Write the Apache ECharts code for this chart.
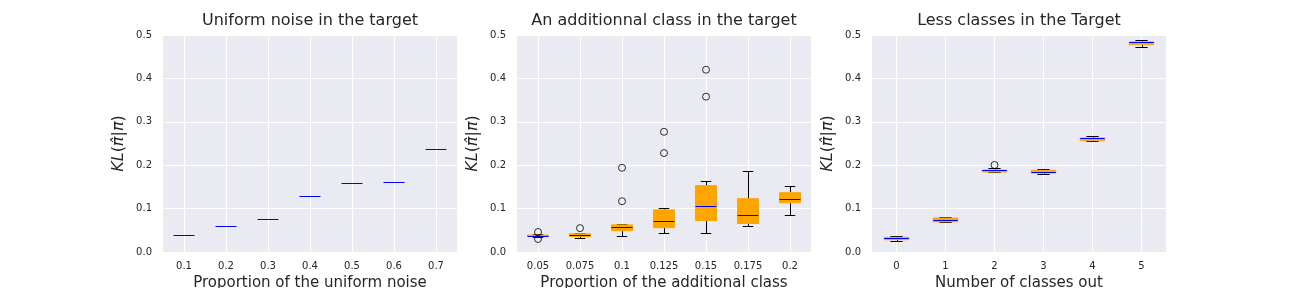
<!DOCTYPE html>
<html><head><meta charset="utf-8">
<script src="https://cdn.jsdelivr.net/npm/echarts@6/dist/echarts.min.js"></script>
<style>html,body{margin:0;padding:0;background:#fff}#c{width:1296px;height:288px}</style>
</head><body><div id="c"></div>
<script>
// ---- Data ----
const titles = ['Uniform noise in the target', 'An additionnal class in the target', 'Less classes in the Target'];
const xLabels = ['Proportion of the uniform noise', 'Proportion of the additional class', 'Number of classes out'];
const yTicks = [0, 0.1, 0.2, 0.3, 0.4, 0.5];

// Panel 1: degenerate boxes (only median visible)
const noiseCats = ['0.1', '0.2', '0.3', '0.4', '0.5', '0.6', '0.7'];
const noiseMedian = [0.039, 0.059, 0.075, 0.128, 0.158, 0.1606, 0.2366];

// Panel 2: [low whisker, q1, median, q3, high whisker]
const addCats = ['0.05', '0.075', '0.1', '0.125', '0.15', '0.175', '0.2'];
const addLow    = [0.034, 0.032, 0.037, 0.043, 0.043, 0.060, 0.085];
const addQ1     = [0.036, 0.0355, 0.049, 0.056, 0.0725, 0.0656, 0.1134];
const addMedian = [0.038, 0.0386, 0.057, 0.071, 0.1065, 0.0856, 0.122];
const addQ3     = [0.039, 0.042, 0.0625, 0.097, 0.153, 0.1227, 0.1366];
const addHigh   = [0.041, 0.044, 0.065, 0.101, 0.1636, 0.1867, 0.152];
const addOutliers = [[0, 0.046], [0, 0.030], [1, 0.055], [2, 0.117], [2, 0.194], [3, 0.228], [3, 0.277], [4, 0.358], [4, 0.420]];

// Panel 3
const lessCats = ['0', '1', '2', '3', '4', '5'];
const lessLow    = [0.0253, 0.0695, 0.1836, 0.1805, 0.2565, 0.4724];
const lessQ1     = [0.0284, 0.0695, 0.1843, 0.182, 0.2565, 0.4777];
const lessMedian = [0.0315, 0.073, 0.1882, 0.1851, 0.2619, 0.4832];
const lessQ3     = [0.0338, 0.0783, 0.189, 0.1882, 0.2627, 0.4840];
const lessHigh   = [0.0361, 0.0799, 0.1928, 0.1905, 0.2665, 0.4878];
const lessOutliers = [[2, 0.2005]];

// ---- Build ----
const FONT = 'DejaVu Sans';
const TXT = '#262626';
const gridsPos = [163, 517, 872];
const GW = 294, GT = 35, GH = 217;

function zip(lo, q1, md, q3, hi) {
  return md.map((m, i) => [i, lo[i], q1[i], m, q3[i], hi[i]]);
}
const r = v => Math.round(v) + 0.5;

function boxRender(params, api) {
  const i = api.value(0);
  const band = api.size([1, 0])[0];
  const bw = band * 0.5, cw = band * 0.25;
  const cx = api.coord([i, api.value(3)])[0];
  const yl = api.coord([i, api.value(1)])[1];
  const y1 = api.coord([i, api.value(2)])[1];
  const ym = api.coord([i, api.value(3)])[1];
  const y3 = api.coord([i, api.value(4)])[1];
  const yh = api.coord([i, api.value(5)])[1];
  const px = r(cx);
  const black = {stroke: '#000', lineWidth: 1, fill: null};
  return {type: 'group', children: [
    {type: 'line', shape: {x1: px, y1: y1, x2: px, y2: r(yl)}, style: black},
    {type: 'line', shape: {x1: px, y1: y3, x2: px, y2: r(yh)}, style: black},
    {type: 'line', shape: {x1: cx - cw / 2, y1: r(yl), x2: cx + cw / 2, y2: r(yl)}, style: black},
    {type: 'line', shape: {x1: cx - cw / 2, y1: r(yh), x2: cx + cw / 2, y2: r(yh)}, style: black},
    {type: 'rect', shape: {x: cx - bw / 2, y: y3, width: bw, height: Math.max(y1 - y3, 0.01)}, style: {fill: '#FFA500', stroke: '#FFA500', lineWidth: 1}},
    {type: 'line', shape: {x1: cx - bw / 2, y1: r(ym), x2: cx + bw / 2, y2: r(ym)}, style: {stroke: '#0000FF', lineWidth: 1}}
  ]};
}
function medRender(params, api) {
  const i = api.value(0);
  const band = api.size([1, 0])[0];
  const bw = band * 0.5;
  const p = api.coord([i, api.value(1)]);
  return {type: 'line', shape: {x1: p[0] - bw / 2, y1: r(p[1]), x2: p[0] + bw / 2, y2: r(p[1])}, style: {stroke: '#0000FF', lineWidth: 1}};
}

const catsList = [noiseCats, addCats, lessCats];
const grid = gridsPos.map(l => ({left: l, top: GT, width: GW, height: GH, show: true, backgroundColor: '#EAEAF2', borderWidth: 0, containLabel: false, outerBoundsMode: 'none'}));
const xAxis = catsList.map((c, k) => ({
  type: 'category', gridIndex: k, data: c, boundaryGap: true,
  axisLine: {show: false}, axisTick: {show: false},
  axisLabel: {color: TXT, fontSize: 10, fontFamily: FONT, margin: 9, interval: 0},
  splitLine: {show: true, alignWithLabel: true, interval: 0, lineStyle: {color: '#fff', width: 1}},
  name: xLabels[k], nameLocation: 'middle', nameGap: 20,
  nameTextStyle: {color: TXT, fontSize: 15, fontFamily: FONT}
}));
const yName = '{i|KL}{n|(}{i|π\u0302}{n||}{i|π}{n|)}';
const yAxis = catsList.map((c, k) => ({
  type: 'value', gridIndex: k, min: yTicks[0], max: yTicks[yTicks.length - 1], interval: 0.1,
  axisLine: {show: false}, axisTick: {show: false},
  axisLabel: {color: TXT, fontSize: 10, fontFamily: FONT, margin: 11, formatter: v => v.toFixed(1)},
  splitLine: {show: true, lineStyle: {color: '#fff', width: 1}},
  name: yName, nameLocation: 'middle', nameGap: 36,
  nameTextStyle: {color: TXT, fontSize: 16, fontFamily: FONT,
    rich: {i: {fontStyle: 'italic', fontSize: 16, fontFamily: FONT, color: TXT},
           n: {fontSize: 16, fontFamily: FONT, color: TXT}}}
}));
const title = titles.map((t, k) => ({
  text: t, left: gridsPos[k] + GW / 2, top: 13, textAlign: 'center', padding: 0,
  textStyle: {color: TXT, fontSize: 16, fontWeight: 'normal', fontFamily: FONT}
}));
const outlierStyle = {color: 'rgba(0,0,0,0)', borderColor: '#000', borderWidth: 1};
const series = [
  {type: 'custom', xAxisIndex: 0, yAxisIndex: 0, renderItem: medRender,
   data: noiseMedian.map((m, i) => [i, m]), encode: {x: 0, y: 1}, silent: true},
  {type: 'custom', xAxisIndex: 1, yAxisIndex: 1, renderItem: boxRender,
   data: zip(addLow, addQ1, addMedian, addQ3, addHigh), encode: {x: 0, y: [1, 2, 3, 4, 5]}, silent: true},
  {type: 'scatter', xAxisIndex: 1, yAxisIndex: 1, data: addOutliers, symbol: 'circle', symbolSize: 7, itemStyle: outlierStyle, silent: true, z: 5},
  {type: 'custom', xAxisIndex: 2, yAxisIndex: 2, renderItem: boxRender,
   data: zip(lessLow, lessQ1, lessMedian, lessQ3, lessHigh), encode: {x: 0, y: [1, 2, 3, 4, 5]}, silent: true},
  {type: 'scatter', xAxisIndex: 2, yAxisIndex: 2, data: lessOutliers, symbol: 'circle', symbolSize: 7, itemStyle: outlierStyle, silent: true, z: 5}
];
const chart = echarts.init(document.getElementById('c'), null, {renderer: 'canvas'});
chart.setOption({animation: false, backgroundColor: '#fff', title, grid, xAxis, yAxis, series});
</script>
</body></html>
